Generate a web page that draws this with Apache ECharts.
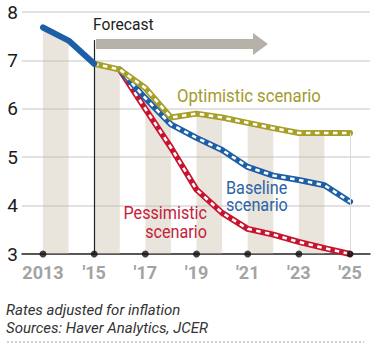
<!DOCTYPE html>
<html>
<head>
<meta charset="utf-8">
<script src="https://cdn.jsdelivr.net/npm/echarts@6/dist/echarts.min.js"></script>
<style>
  html, body { margin: 0; padding: 0; background: #fff; }
  #chart { width: 386px; height: 343px; }
</style>
</head>
<body>
<div id="chart"></div>
<script>
// Years on the horizontal axis
var years = [2013, 2014, 2015, 2016, 2017, 2018, 2019, 2020, 2021, 2022, 2023, 2024, 2025];
var tickYears = [2013, 2015, 2017, 2019, 2021, 2023, 2025];
var tickLabels = ['2013', "'15", "'17", "'19", "'21", "'23", "'25"];
var yTicks = [3, 4, 5, 6, 7, 8];

// Real interest rate paths (null = no value that year)
var actual      = [7.68, 7.41, 6.93, null, null, null, null, null, null, null, null, null, null];
var optimistic  = [null, null, 6.93, 6.81, 6.43, 5.82, 5.90, 5.82, 5.71, 5.60, 5.50, 5.50, 5.50];
var baseline    = [null, null, null, 6.81, 6.22, 5.68, 5.40, 5.15, 4.80, 4.62, 4.53, 4.42, 4.08];
var pessimistic = [null, null, null, 6.81, 6.00, 5.20, 4.33, 3.85, 3.52, 3.40, 3.25, 3.12, 3.00];

var BLUE = '#1d5fa6', OLIVE = '#a89f28', RED = '#c8142f';
var FONT = 'Roboto, "Liberation Sans", sans-serif';

function pairs(vals) {
  var out = [];
  vals.forEach(function (v, i) { if (v != null) out.push([years[i], v]); });
  return out;
}

// Upper envelope of all paths, used for the shaded bands on alternate years
var envelope = years.map(function (y, i) {
  var m = null;
  [actual, optimistic, baseline, pessimistic].forEach(function (s) {
    if (s[i] != null && (m == null || s[i] > m)) m = s[i];
  });
  return m;
});
var bandStarts = [2013, 2015, 2017, 2019, 2021, 2023];

function scenarioSeries(name, vals, color) {
  return [{
    name: name, type: 'line', data: pairs(vals), symbol: 'none', z: 4,
    lineStyle: { color: color, width: 6, cap: 'round', join: 'round' }
  }, {
    name: name + ' dash', type: 'line', data: pairs(vals), symbol: 'none', z: 4,
    lineStyle: { color: '#fff', width: 2.6, type: [4.5, 4.5], cap: 'butt', join: 'round' }
  }];
}

var chart = echarts.init(document.getElementById('chart'), null, { renderer: 'svg' });

var series = [];
series.push({
  name: 'bands', type: 'custom', z: 1, silent: true,
  data: bandStarts.map(function (y) { return [y]; }),
  renderItem: function (params, api) {
    var y0 = api.value(0), i = years.indexOf(y0);
    var pts = [
      api.coord([y0, 3]), api.coord([y0, envelope[i]]),
      api.coord([y0 + 1, envelope[i + 1]]), api.coord([y0 + 1, 3])
    ];
    return { type: 'polygon', shape: { points: pts }, style: { fill: 'rgba(196,186,166,0.38)' } };
  }
});
series.push({
  name: 'actual', type: 'line', data: pairs(actual), symbol: 'none', z: 5,
  lineStyle: { color: BLUE, width: 6, cap: 'round', join: 'round' },
  markLine: {
    silent: true, symbol: 'none', label: { show: false },
    data: [
      [{ coord: [2015, 3], lineStyle: { color: '#222', width: 1.2, type: 'solid' } }, { coord: [2015, 7.42] }],
      [{ coord: [2025, 3], lineStyle: { color: '#dcdcdc', width: 1, type: 'solid' } }, { coord: [2025, envelope[12]] }]
    ]
  }
});
series = series.concat(scenarioSeries('Pessimistic', pessimistic, RED));
series = series.concat(scenarioSeries('Baseline', baseline, BLUE));
series = series.concat(scenarioSeries('Optimistic', optimistic, OLIVE));
series.push({
  name: 'ticks', type: 'scatter', z: 6, clip: false, silent: true,
  data: tickYears.map(function (y) { return [y, 3]; }),
  symbol: 'circle', symbolSize: 7, itemStyle: { color: '#111' }
});

function label(x, y, text, size, color, opts) {
  opts = opts || {};
  return {
    type: 'text', x: x, y: y, scaleX: opts.scaleX || 0.9, z: 10,
    style: {
      text: text, x: 0, y: 0, font: (opts.italic ? 'italic ' : '') + size + 'px ' + FONT,
      fill: color, align: opts.align || 'left', verticalAlign: 'top',
      lineHeight: opts.lineHeight || size
    }
  };
}

chart.setOption({
  animation: false,
  grid: { left: 22, right: 16, top: 12, bottom: 89 },
  xAxis: {
    type: 'value', min: 2012.18, max: 2025.78,
    splitLine: { show: false },
    axisTick: { show: false },
    axisLine: { show: true, onZero: false, lineStyle: { color: '#2a2a2a', width: 1.5 } },
    axisLabel: {
      customValues: tickYears, margin: 9,
      fontFamily: FONT, fontSize: 18, fontWeight: 'bold',
      formatter: function (v) { return tickLabels[tickYears.indexOf(v)]; },
      color: function (v) { return v === 2013 ? '#111' : '#a3a3a3'; }
    }
  },
  yAxis: {
    type: 'value', min: 3, max: 8, interval: 1,
    axisLine: { show: false }, axisTick: { show: false },
    splitLine: { lineStyle: { color: '#d9d9d9', width: 1.5 } },
    axisLabel: {
      margin: 4, fontFamily: FONT, fontSize: 19, color: '#1a1a1a',
      formatter: function (v) { return yTicks.indexOf(v) >= 0 ? String(v) : ''; }
    }
  },
  series: series,
  graphic: [
    { type: 'polygon', z: 3, shape: { points: [[96, 39], [253, 39], [253, 33], [268, 44], [253, 55], [253, 49], [96, 49]] },
      style: { fill: '#b5b1a8' } },
    label(93, 16, 'Forecast', 17, '#222', { scaleX: 0.92 }),
    label(177, 86, 'Optimistic scenario', 19, '#a39a2c', { scaleX: 0.88 }),
    label(226, 179, 'Baseline\nscenario', 18, '#2b64a6', { scaleX: 0.9, lineHeight: 17 }),
    label(207, 203, 'Pessimistic\nscenario', 18, '#c4213b', { scaleX: 0.9, align: 'right', lineHeight: 19 }),
    label(6, 302, 'Rates adjusted for inflation', 15, '#333', { italic: true, scaleX: 1 }),
    label(6, 320, 'Sources: Haver Analytics, JCER', 15, '#333', { italic: true, scaleX: 1 }),
    { type: 'line', shape: { x1: 7, y1: 342, x2: 364, y2: 342 }, style: { stroke: '#cfcfcf', lineWidth: 2, lineDash: [2, 2] } }
  ]
});
</script>
</body>
</html>
